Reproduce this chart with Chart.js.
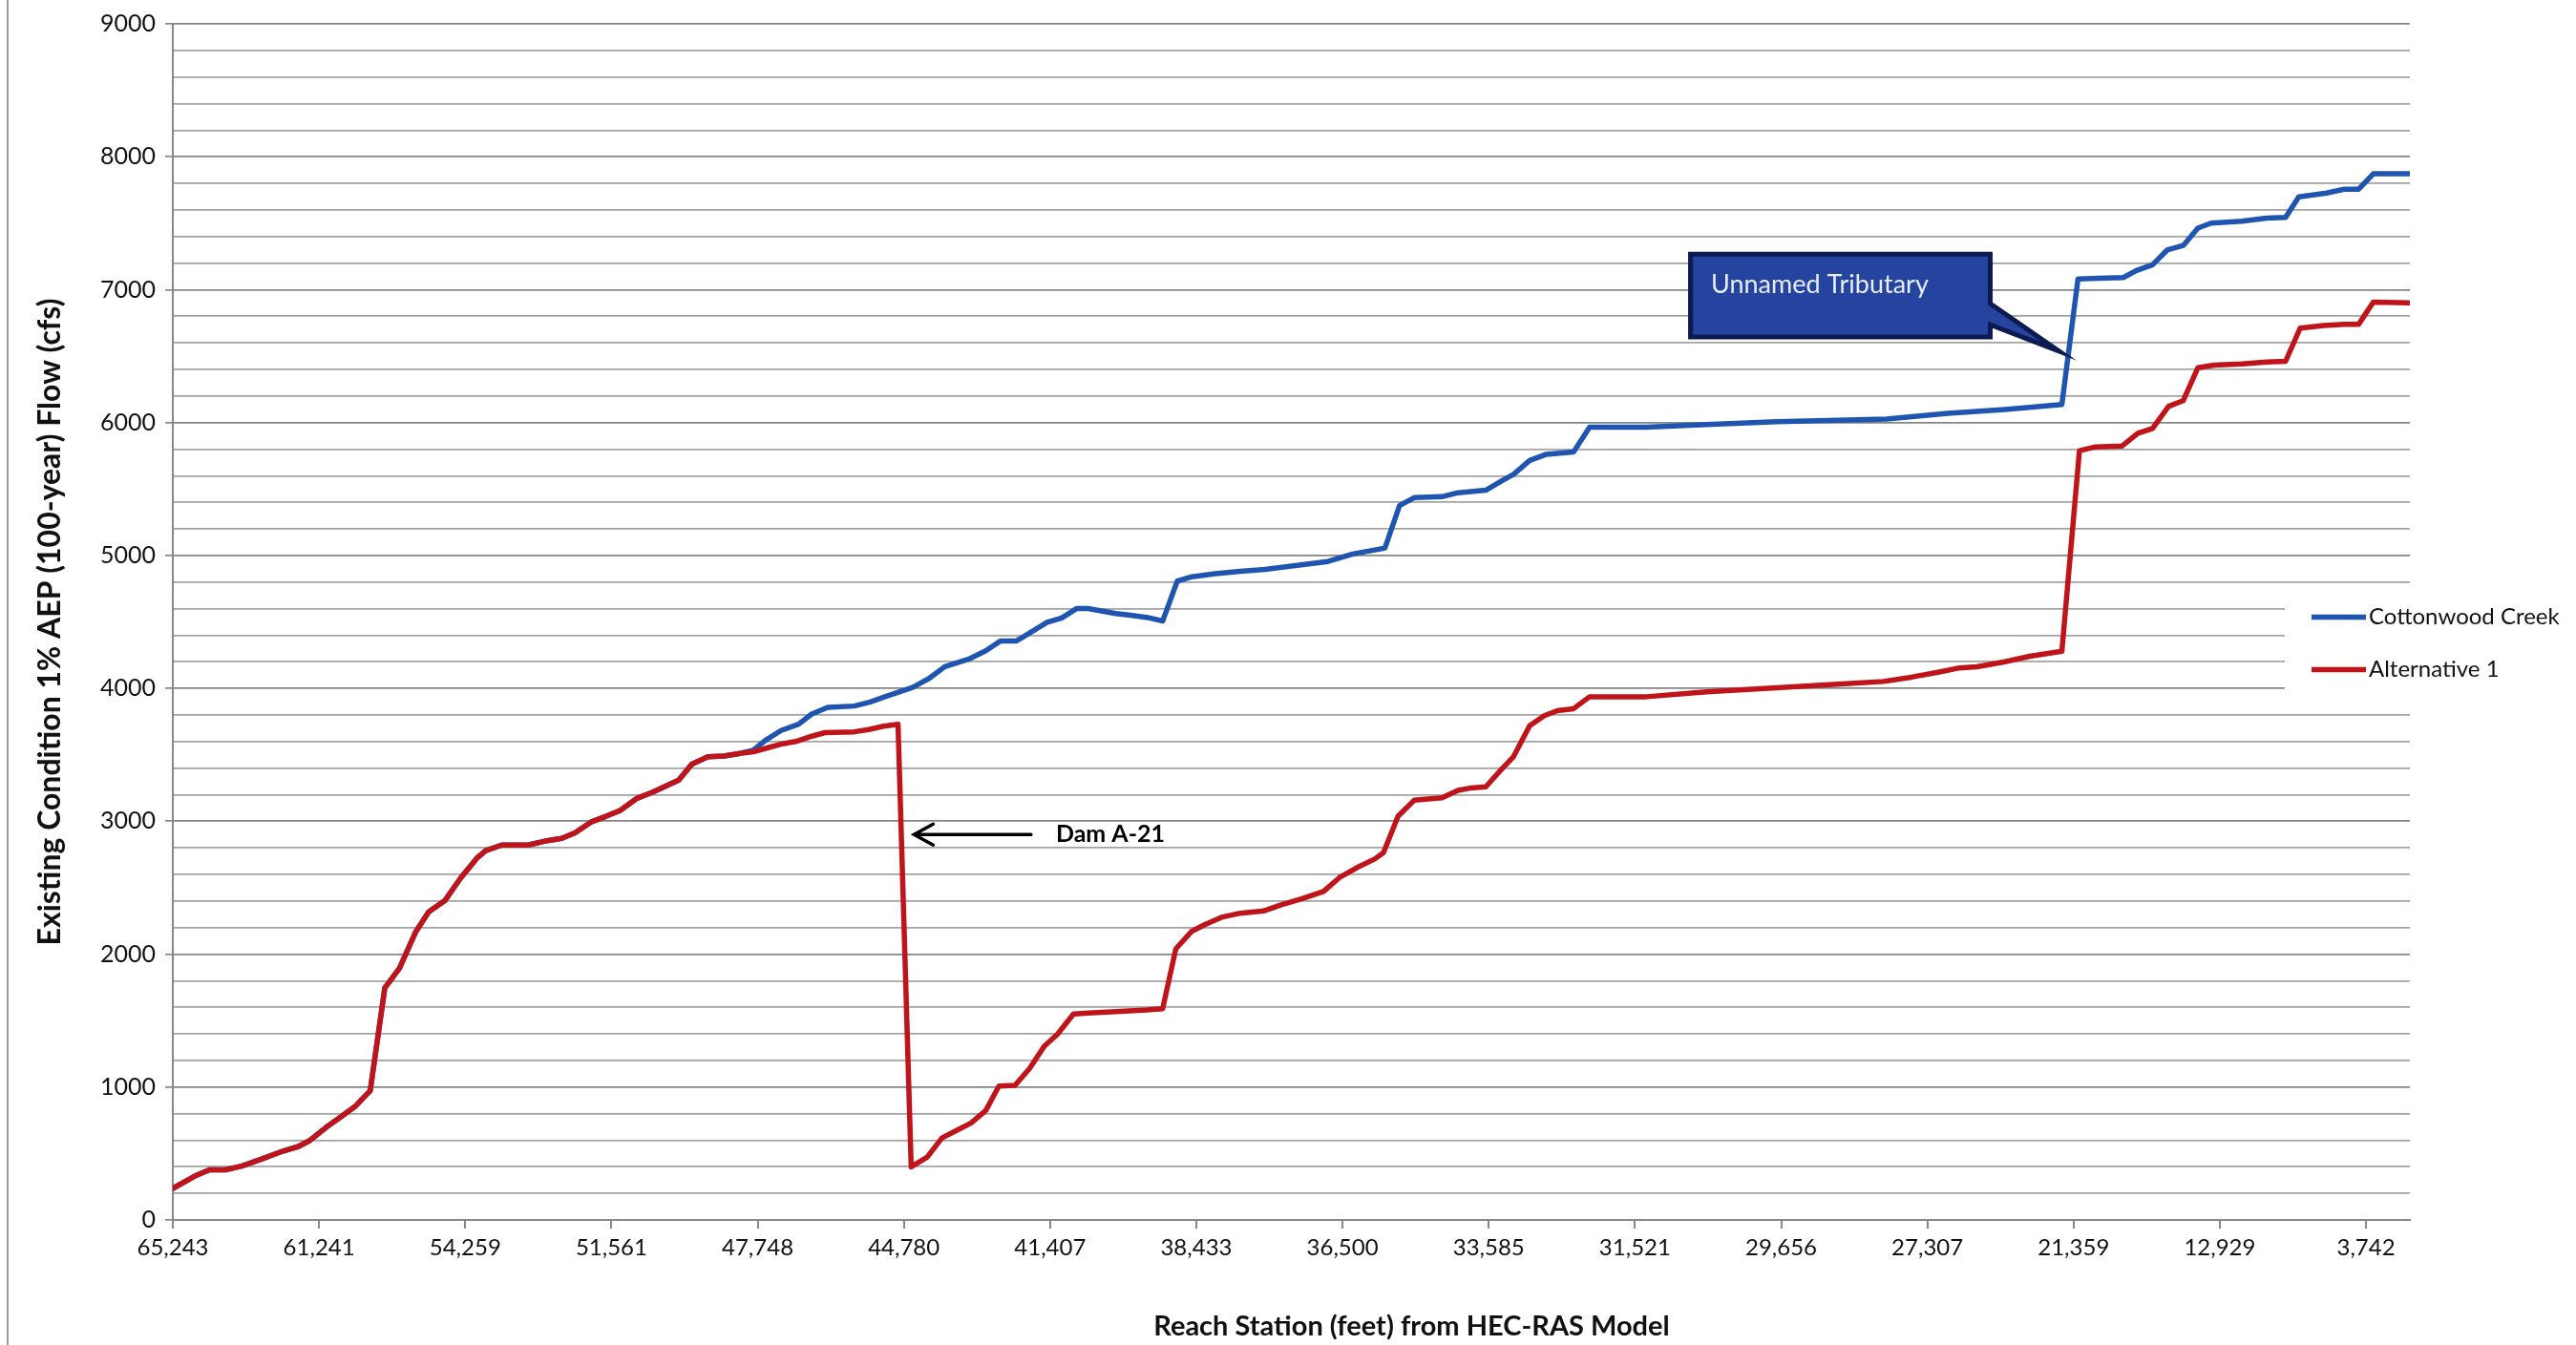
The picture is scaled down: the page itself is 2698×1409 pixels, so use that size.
<!DOCTYPE html>
<html>
<head>
<meta charset="utf-8">
<title>Cottonwood Creek 1% AEP Flow Profile</title>
<script src="https://cdn.jsdelivr.net/npm/chart.js@4.4.1/dist/chart.umd.min.js"></script>
<style>
  html, body { margin: 0; padding: 0; background: #fff; }
  #wrap { position: relative; width: 2698px; height: 1409px; }
  #edge { position: absolute; left: 7px; top: 0; width: 2px; height: 1409px; background: #9a9a9a; }
</style>
</head>
<body>
<div id="wrap">
  <canvas id="flowChart" width="2698" height="1409"></canvas>
  <div id="edge"></div>
</div>
<script>
// stations labelled on the x axis, one every 10 cross sections
const stationTicks = ['65,243', '61,241', '54,259', '51,561', '47,748', '44,780', '41,407', '38,433',
  '36,500', '33,585', '31,521', '29,656', '27,307', '21,359', '12,929', '3,742'];
const sectionsPerTick = 10;
const lastSection = 153;

// [cross section, flow cfs] - both runs are the same upstream of the split
const upstreamShared = [
  [0, 237], [1.5, 330], [2.5, 377], [3.6, 377], [4.7, 405], [6.0, 455], [7.5, 517], [8.6, 553],
  [9.4, 600], [10.5, 698], [11.4, 768], [12.5, 857], [13.5, 972], [14.5, 1746], [15.5, 1894],
  [16.6, 2165], [17.5, 2318], [18.6, 2402], [19.7, 2575], [20.8, 2723], [21.4, 2779], [22.5, 2821],
  [24.3, 2821], [25.6, 2854], [26.6, 2871], [27.5, 2913], [28.6, 2994], [29.6, 3036], [30.6, 3081],
  [31.7, 3170], [32.8, 3218], [34.6, 3310], [35.5, 3430], [36.6, 3486], [37.7, 3491], [38.8, 3511]
];

const cottonwoodDown = [
  [39.7, 3535], [40.5, 3607], [41.6, 3683], [42.8, 3730], [43.7, 3807], [44.8, 3857], [46.6, 3867],
  [47.7, 3897], [48.8, 3940], [50.6, 4007], [51.7, 4073], [52.8, 4163], [54.5, 4223], [55.6, 4283],
  [56.6, 4357], [57.7, 4357], [58.6, 4417], [59.8, 4497], [60.8, 4530], [61.8, 4600], [62.6, 4600],
  [64.5, 4563], [65.5, 4550], [66.8, 4530], [67.7, 4507], [68.7, 4807], [69.7, 4840], [71.3, 4863],
  [73.0, 4880], [74.7, 4895], [76.9, 4925], [79.0, 4955], [80.7, 5011], [82.9, 5056], [83.9, 5375],
  [84.9, 5435], [86.8, 5442], [87.9, 5472], [89.8, 5491], [90.9, 5562], [91.7, 5611], [92.8, 5715],
  [93.9, 5760], [95.8, 5779], [96.9, 5966], [100.8, 5966], [104.9, 5985], [109.7, 6006], [117.2, 6026],
  [121.4, 6069], [125.3, 6098], [129.2, 6136], [130.3, 7080], [131.7, 7086], [133.4, 7091], [134.3, 7144],
  [135.4, 7187], [136.4, 7298], [137.5, 7332], [138.5, 7463], [139.4, 7501], [141.5, 7515], [143.2, 7538],
  [144.5, 7544], [145.4, 7698], [147.3, 7727], [148.5, 7756], [149.5, 7756], [150.5, 7872], [153, 7872]
];

const alternativeDown = [
  [39.7, 3523], [40.6, 3550], [41.7, 3583], [42.6, 3600], [43.7, 3640], [44.6, 3667], [46.6, 3673],
  [47.6, 3690], [48.5, 3713], [49.6, 3730], [50.5, 400], [51.6, 473], [52.6, 617], [53.6, 673],
  [54.6, 730], [55.6, 823], [56.5, 1007], [57.6, 1013], [58.6, 1140], [59.6, 1307], [60.5, 1397],
  [61.6, 1550], [62.6, 1557], [64.5, 1567], [66.6, 1580], [67.7, 1590], [68.6, 2040], [69.7, 2173],
  [70.6, 2223], [71.8, 2280], [73.0, 2308], [74.6, 2325], [75.8, 2371], [77.2, 2416], [78.7, 2472],
  [79.8, 2577], [81.0, 2652], [82.2, 2716], [82.8, 2764], [83.8, 3038], [84.9, 3158], [86.8, 3176],
  [87.9, 3232], [88.8, 3251], [89.8, 3259], [90.8, 3382], [91.7, 3487], [92.8, 3719], [93.8, 3794],
  [94.7, 3832], [95.8, 3847], [96.9, 3937], [100.8, 3937], [104.9, 3974], [109.7, 4005], [113.3, 4028],
  [117.0, 4052], [118.9, 4084], [120.9, 4125], [122.2, 4154], [123.4, 4162], [125.3, 4200], [127.0, 4241],
  [129.2, 4279], [130.4, 5788], [131.5, 5817], [133.3, 5823], [134.4, 5919], [135.4, 5956], [136.5, 6122],
  [137.5, 6165], [138.5, 6412], [139.6, 6432], [141.5, 6441], [143.2, 6456], [144.5, 6461], [145.5, 6711],
  [147.1, 6731], [148.5, 6740], [149.5, 6740], [150.5, 6906], [153, 6900]
];

const seriesNames = ['Cottonwood Creek', 'Alternative 1'];
const seriesColors = ['#1f55b0', '#c0141b'];

// annotation anchors, in axis units (section, cfs)
const tributaryNote = { text: 'Unnamed Tributary', left: 103.8, right: 124.3, top: 7267, bottom: 6644,
  textAt: [105.2, 7038], baseTop: 6895, baseBottom: 6737, tip: [129.0, 6537] };
const damNote = { text: 'Dam A-21', tip: [50.7, 2900], tail: 58.7, textX: 60.4 };

const FONT = 'Lato, "Open Sans", sans-serif';
const toPoints = rows => rows.map(([x, y]) => ({ x, y }));

const notesPlugin = {
  id: 'flowNotes',
  afterDatasetsDraw(chart) {
    const { ctx } = chart;
    const xs = chart.scales.x, ys = chart.scales.y;
    const px = v => xs.getPixelForValue(v);
    const py = v => ys.getPixelForValue(v);

    // callout for the tributary inflow
    const n = tributaryNote;
    ctx.save();
    ctx.beginPath();
    ctx.moveTo(px(n.left), py(n.top));
    ctx.lineTo(px(n.right), py(n.top));
    ctx.lineTo(px(n.right), py(n.baseTop));
    ctx.lineTo(px(n.tip[0]), py(n.tip[1]));
    ctx.lineTo(px(n.right), py(n.baseBottom));
    ctx.lineTo(px(n.right), py(n.bottom));
    ctx.lineTo(px(n.left), py(n.bottom));
    ctx.closePath();
    ctx.fillStyle = '#2444a0';
    ctx.fill();
    ctx.lineWidth = 5;
    ctx.lineJoin = 'miter';
    ctx.strokeStyle = '#0d1a52';
    ctx.stroke();
    ctx.fillStyle = '#e9edf7';
    ctx.font = '27px ' + FONT;
    ctx.textBaseline = 'middle';
    ctx.textAlign = 'left';
    ctx.fillText(n.text, px(n.textAt[0]), py(n.textAt[1]));

    // arrow pointing at the dam
    const d = damNote;
    const tx = px(d.tip[0]), ty = py(d.tip[1]);
    ctx.strokeStyle = '#000';
    ctx.lineWidth = 3.5;
    ctx.lineCap = 'round';
    ctx.beginPath();
    ctx.moveTo(px(d.tail), ty);
    ctx.lineTo(tx, ty);
    ctx.moveTo(tx + 20, ty - 11);
    ctx.lineTo(tx, ty);
    ctx.lineTo(tx + 20, ty + 11);
    ctx.stroke();
    ctx.fillStyle = '#000';
    ctx.font = 'bold 25px ' + FONT;
    ctx.fillText(d.text, px(d.textX), ty);
    ctx.restore();
  },
  afterDraw(chart) {
    const { ctx, chartArea } = chart;
    ctx.save();

    // legend sits over the right end of the plot
    const cy = (chartArea.top + chartArea.bottom) / 2;
    const lx = chartArea.right - 103;
    ctx.fillStyle = '#fff';
    ctx.fillRect(chartArea.right - 131, cy - 25, chart.width, 110);
    ctx.font = '24px ' + FONT;
    ctx.textBaseline = 'middle';
    ctx.textAlign = 'left';
    chart.data.datasets.forEach((ds, i) => {
      const y = cy - 5 + i * 55;
      ctx.strokeStyle = ds.borderColor;
      ctx.lineWidth = 5.5;
      ctx.beginPath();
      ctx.moveTo(lx, y);
      ctx.lineTo(lx + 57, y);
      ctx.stroke();
      ctx.fillStyle = '#111';
      ctx.fillText(ds.label, lx + 60, y);
    });

    // x axis title, set right of centre
    ctx.font = 'bold 29px ' + FONT;
    ctx.textAlign = 'center';
    ctx.fillStyle = '#111';
    ctx.fillText('Reach Station (feet) from HEC-RAS Model',
      (chartArea.left + chartArea.right) / 2 + 126, chartArea.bottom + 112);
    ctx.restore();
  }
};

new Chart(document.getElementById('flowChart'), {
  type: 'line',
  data: {
    datasets: [
      { label: seriesNames[0], data: toPoints(upstreamShared.concat(cottonwoodDown)),
        borderColor: seriesColors[0], order: 1 },
      { label: seriesNames[1], data: toPoints(upstreamShared.concat(alternativeDown)),
        borderColor: seriesColors[1], order: 0 }
    ]
  },
  options: {
    responsive: false,
    animation: false,
    devicePixelRatio: 1,
    layout: { padding: { left: 0, right: 174, top: 20, bottom: 0 } },
    elements: {
      line: { borderWidth: 5.5, tension: 0, borderCapStyle: 'round', borderJoinStyle: 'round', fill: false },
      point: { radius: 0, hoverRadius: 0 }
    },
    plugins: { legend: { display: false }, tooltip: { enabled: false } },
    scales: {
      x: {
        type: 'linear',
        min: 0,
        max: lastSection,
        afterBuildTicks: scale => {
          scale.ticks = stationTicks.map((_, i) => ({ value: i * sectionsPerTick }));
        },
        afterFit: scale => { scale.height = 131; },
        ticks: {
          autoSkip: false,
          maxRotation: 0,
          padding: 6,
          color: '#111',
          font: { family: FONT, size: 24 },
          callback: (value, index) => stationTicks[index]
        },
        grid: { drawOnChartArea: false, drawTicks: true, tickLength: 9, color: '#888', lineWidth: 2 },
        border: { color: '#888', width: 2 }
      },
      y: {
        min: 0,
        max: 9000,
        afterFit: scale => { scale.width = 181; },
        ticks: {
          stepSize: 200,
          maxTicksLimit: 60,
          autoSkip: false,
          padding: 10,
          color: '#111',
          font: { family: FONT, size: 25 },
          callback: v => (v % 1000 === 0 ? String(v) : '')
        },
        grid: {
          color: c => (c.tick && c.tick.value % 1000 === 0 ? '#858585' : '#a3a3a3'),
          tickColor: c => (c.tick && c.tick.value % 1000 === 0 ? '#888' : 'rgba(0,0,0,0)'),
          lineWidth: 1.7,
          tickLength: 8
        },
        border: { color: '#888', width: 2 },
        title: {
          display: true,
          text: 'Existing Condition 1% AEP (100-year) Flow (cfs)',
          color: '#111',
          font: { family: FONT, size: 32, weight: 'bold' },
          padding: { top: 33, bottom: 0 }
        }
      }
    }
  },
  plugins: [notesPlugin]
});
</script>
</body>
</html>
